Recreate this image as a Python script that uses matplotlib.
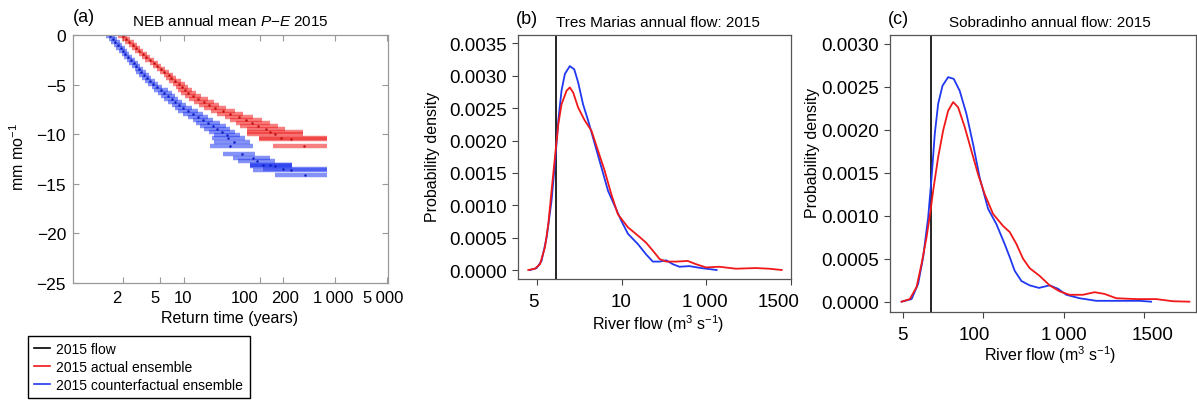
import numpy as np
import matplotlib
matplotlib.use('Agg')
import matplotlib.pyplot as plt
from matplotlib.lines import Line2D
from matplotlib.ticker import FixedLocator, NullLocator
from matplotlib.transforms import ScaledTranslation

plt.rcParams['font.family'] = ['Liberation Sans', 'DejaVu Sans']
plt.rcParams['mathtext.fontset'] = 'custom'
plt.rcParams['mathtext.rm'] = 'Liberation Sans'
plt.rcParams['mathtext.it'] = 'Liberation Sans:italic'
plt.rcParams['axes.unicode_minus'] = True

# --- (a) NEB annual mean P-E 2015: return time (years) vs mm/month ---
# actual ensemble (red): return time, value, error bar low / high return time
pe_act_T = [1.98, 2.14, 2.31, 2.51, 2.70, 2.91, 3.17, 3.47, 3.80, 4.23, 4.64, 5.18, 5.71,
            6.40, 6.86, 7.69, 8.64, 9.42, 10.3, 11.4, 13.0, 15.3, 18.0, 21.0, 25.2, 32.1,
            39.7, 52.2, 64.8, 77.8, 93.6, 120, 135, 158, 190, 258, 385]
pe_act_val = [-0.10, -0.40, -0.71, -1.01, -1.31, -1.61, -1.92, -2.22, -2.52, -2.82, -3.13,
              -3.43, -3.73, -4.03, -4.33, -4.64, -4.94, -5.24, -5.54, -5.85, -6.15, -6.45,
              -6.75, -7.06, -7.36, -7.66, -7.96, -8.27, -8.57, -8.87, -9.17, -9.48, -9.78,
              -9.93, -10.38, -10.48, -11.19]
pe_act_lo = [1.82, 1.96, 2.11, 2.29, 2.45, 2.63, 2.87, 3.14, 3.42, 3.80, 4.17, 4.64, 5.04,
             5.63, 5.96, 6.49, 7.27, 7.91, 8.40, 9.15, 10.3, 11.5, 13.4, 15.5, 18.0, 22.4,
             26.8, 34.1, 39.7, 47.7, 53.9, 66.6, 66.6, 66.6, 95.6, 95.6, 150]
pe_act_hi = [2.16, 2.34, 2.54, 2.77, 2.98, 3.21, 3.51, 3.85, 4.23, 4.71, 5.18, 5.79, 6.49,
             7.27, 7.91, 9.15, 10.3, 11.2, 12.6, 14.2, 16.5, 20.4, 24.5, 28.4, 35.1, 46.3,
             59.1, 80.2, 105, 135, 173, 214, 375, 375, 783, 783, 783]

# counterfactual ensemble (blue)
pe_cf_T = [1.565, 1.64, 1.715, 1.80, 1.90, 2.00, 2.11, 2.24, 2.40, 2.54, 2.70, 2.87, 3.06,
           3.26, 3.51, 3.80, 4.17, 4.64, 5.18, 5.71, 6.30, 6.98, 7.69, 8.64, 9.85, 11.2,
           13.0, 15.1, 17.5, 20.4, 23.8, 26.8, 31.1, 36.2, 37.5, 44.5, 39.7, 56.7, 79.6,
           92.0, 109, 135, 158, 199, 260, 397]
pe_cf_val = [-0.10, -0.40, -0.71, -1.01, -1.31, -1.61, -1.92, -2.22, -2.52, -2.82, -3.13,
             -3.43, -3.73, -4.03, -4.33, -4.64, -4.94, -5.24, -5.54, -5.85, -6.15, -6.45,
             -6.75, -7.06, -7.36, -7.66, -7.96, -8.27, -8.57, -8.87, -9.17, -9.48, -9.78,
             -10.08, -10.38, -10.79, -11.16, -11.99, -12.43, -12.67, -13.10, -13.10, -13.17,
             -13.51, -13.58, -14.11]
pe_cf_lo = [1.46, 1.53, 1.59, 1.67, 1.75, 1.84, 1.94, 2.05, 2.18, 2.31, 2.45, 2.60, 2.70,
            2.87, 3.10, 3.34, 3.65, 4.06, 4.28, 4.71, 5.18, 5.71, 6.30, 7.09, 7.69, 8.40,
            9.71, 11.2, 13.0, 14.2, 16.0, 18.0, 21.0, 24.5, 23.0, 24.5, 21.7, 32.1, 43.5,
            50.3, 73.2, 73.2, 73.2, 110, 80.2, 158]
pe_cf_hi = [1.69, 1.77, 1.86, 1.96, 2.07, 2.18, 2.31, 2.45, 2.63, 2.80, 2.98, 3.17, 3.47,
            3.70, 4.00, 4.34, 4.78, 5.33, 6.30, 6.98, 7.69, 8.51, 9.42, 10.6, 12.6, 15.0,
            17.5, 20.4, 23.8, 29.3, 35.1, 39.7, 46.3, 53.9, 62.8, 73.2, 80.2, 85.4, 135,
            158, 265, 265, 265, 783, 783, 783]

rt_ticks = [2, 5, 10, 100, 200, 1000, 5000]
rt_labels = ['2', '5', '10', '100', '200', '1\u2009000', '5\u2009000']

# --- (b) Tres Marias annual flow 2015: density of river flow ---
tm_flow_2015 = 112
tm_act_x = [-51, -12, 18, 47, 67, 86, 106, 126, 145, 175, 194, 214, 243, 282, 322, 361, 400,
            439, 478, 537, 606, 645, 684, 724, 763, 822, 890, 939, 998, 1076, 1175, 1292,
            1371, 1445]
tm_act_d = [0.0, 0.00002, 0.00009, 0.00035, 0.00071, 0.00122, 0.00174, 0.00225, 0.00256,
            0.00277, 0.00282, 0.00274, 0.00251, 0.00231, 0.00215, 0.00184, 0.00153, 0.00117,
            0.00086, 0.00066, 0.00051, 0.00042, 0.0003, 0.00017, 0.00013, 0.00013, 0.00014,
            0.00009, 0.00004, 0.00005, 0.00002, 0.00003, 0.00002, 0.0]
tm_cf_x = [-41, -2, 27, 57, 86, 106, 126, 145, 165, 194, 220, 243, 272, 302, 341, 380, 420,
           459, 498, 537, 596, 645, 684, 724, 763, 802, 841, 900, 969, 1061]
tm_cf_d = [0.0, 0.00003, 0.00014, 0.0005, 0.00107, 0.00164, 0.00231, 0.00277, 0.00303,
           0.00315, 0.0031, 0.0029, 0.00256, 0.00231, 0.00195, 0.00159, 0.00122, 0.00099,
           0.00076, 0.00056, 0.0004, 0.00024, 0.00013, 0.00013, 0.00015, 0.00009, 0.00005,
           0.00006, 0.00003, 0.0]
tm_ticks = [0, 500, 1000, 1500]
tm_labels = ['5', '10', '1\u2009000', '1500']

# --- (c) Sobradinho annual flow 2015 ---
sob_flow_2015 = 174
sob_act_x = [-8, 43, 85, 116, 147, 172, 188, 219, 250, 281, 312, 343, 384, 426, 467, 508,
             560, 622, 663, 705, 746, 787, 849, 911, 973, 1035, 1118, 1190, 1252, 1325, 1449,
             1573, 1676, 1779]
sob_act_d = [0.0, 0.00003, 0.00017, 0.00044, 0.00075, 0.00106, 0.00129, 0.00168, 0.00199,
             0.00222, 0.00232, 0.00226, 0.00203, 0.00175, 0.00148, 0.00125, 0.00102, 0.00088,
             0.00081, 0.00067, 0.0005, 0.00039, 0.0003, 0.00019, 0.00012, 0.00008, 0.00008,
             0.00011, 0.00009, 0.00004, 0.00003, 0.00003, 0.000005, 0.0]
sob_cf_x = [-8, 54, 95, 126, 157, 178, 198, 219, 246, 281, 316, 353, 395, 436, 477, 529, 581,
            632, 663, 694, 736, 787, 845, 911, 963, 1015, 1097, 1201, 1345, 1469, 1541]
sob_cf_d = [0.0, 0.00003, 0.00021, 0.00052, 0.00098, 0.00144, 0.00195, 0.0023, 0.00251,
            0.00261, 0.00259, 0.00245, 0.00218, 0.00183, 0.00144, 0.00108, 0.0009, 0.00067,
            0.00052, 0.00036, 0.00024, 0.00019, 0.00016, 0.00019, 0.00015, 0.00008, 0.00004,
            0.00001, 0.00001, 0.00001, 0.0]
sob_ticks = [0, 500, 1000, 1500]
sob_labels = ['5', '100', '1\u2009000', '1500']

RED = '#f01818'
BLUE = '#2038f0'
W, H = 1197, 402


def fpos(x, y):
    return x / W, 1 - y / H


def ax_rect(left, top, right, bottom):
    return [left / W, (H - bottom) / H, (right - left) / W, (bottom - top) / H]


def gumbel(t):
    t = np.clip(np.asarray(t, dtype=float), 1.000001, None)
    return -np.log(-np.log1p(-1.0 / t))


def gumbel_inv(g):
    g = np.asarray(g, dtype=float)
    return 1.0 / (-np.expm1(-np.exp(-g)))


def shift_xlabels(ax, offsets_px):
    # the original figure has its tick labels slightly off the tick marks
    for lab, dx in zip(ax.get_xticklabels(), offsets_px):
        lab.set_transform(lab.get_transform() + ScaledTranslation(dx / 100, 0, fig.dpi_scale_trans))


fig = plt.figure(figsize=(W / 100, H / 100), dpi=100)

# ---------------- panel (a) ----------------
ax1 = fig.add_axes(ax_rect(73, 36, 388, 284))
ax1.set_xscale('function', functions=(gumbel, gumbel_inv))
ax1.hlines(pe_cf_val, pe_cf_lo, pe_cf_hi, color=BLUE, alpha=0.55, lw=3.2)
ax1.plot(pe_cf_T, pe_cf_val, '.', color='#1020c0', ms=1.6)
ax1.hlines(pe_act_val, pe_act_lo, pe_act_hi, color=RED, alpha=0.55, lw=3.2)
ax1.plot(pe_act_T, pe_act_val, '.', color='#c01010', ms=1.6)
ax1.set_xlim(1.0407, 5150)
ax1.set_ylim(-25, 0)
ax1.xaxis.set_major_locator(FixedLocator(rt_ticks))
ax1.set_xticklabels(rt_labels)
ax1.xaxis.set_minor_locator(NullLocator())
ax1.set_yticks([0, -5, -10, -15, -20, -25])
ax1.tick_params(direction='in', top=True, right=True, length=4, width=0.8,
                color='#999999', labelsize=12.5, pad=5)
ax1.tick_params(axis='x', labelsize=12)
for s in ax1.spines.values():
    s.set_color('#999999')
    s.set_linewidth(0.9)
shift_xlabels(ax1, [-6, -5, -1, -16, 2, -2, -4])

fig.text(*fpos(84, 18), '(a)', fontsize=13, ha='center', va='center')
fig.text(*fpos(230, 22), 'NEB annual mean $P$\u2212$E$ 2015',
         fontsize=11, ha='center', va='center')
fig.text(*fpos(18, 157), r'mm mo$^{-1}$', fontsize=11.5, rotation=90, ha='center', va='center')
fig.text(*fpos(230, 319), 'Return time (years)', fontsize=11.5, ha='center', va='center')


# ---------------- panels (b) and (c) ----------------
def density_panel(rect, act_x, act_d, cf_x, cf_d, flow, ticks, labels, xlim, ylim, yticks):
    ax = fig.add_axes(rect)
    ax.axvline(flow, color='black', lw=1.2)
    ax.plot(cf_x, cf_d, color=BLUE, lw=1.3)
    ax.plot(act_x, act_d, color=RED, lw=1.3)
    ax.set_xlim(*xlim)
    ax.set_ylim(*ylim)
    ax.set_xticks(ticks)
    ax.set_xticklabels(labels)
    ax.set_yticks(yticks)
    ax.set_yticklabels(['%.4f' % v for v in yticks])
    ax.tick_params(direction='out', length=4, width=0.8, color='#444444', labelsize=13.5)
    ax.tick_params(axis='y', pad=4)
    ax.tick_params(axis='x', pad=6)
    for s in ax.spines.values():
        s.set_color('#555555')
        s.set_linewidth(0.9)
    return ax


ax2 = density_panel(ax_rect(518, 36, 791, 280), tm_act_x, tm_act_d, tm_cf_x, tm_cf_d,
                    tm_flow_2015, tm_ticks, tm_labels, (-112, 1500), (-0.000139, 0.00363),
                    np.arange(0, 0.00351, 0.0005))
shift_xlabels(ax2, [-4, -1, -2, -12])
fig.text(*fpos(527, 20), '(b)', fontsize=13, ha='center', va='center')
fig.text(*fpos(658, 23), 'Tres Marias annual flow: 2015', fontsize=11, ha='center', va='center')
fig.text(*fpos(432, 157), 'Probability density', fontsize=11.5, rotation=90,
         ha='center', va='center')
fig.text(*fpos(658, 324), r'River flow (m$^3$ s$^{-1}$)', fontsize=11.5, ha='center', va='center')

ax3 = density_panel(ax_rect(890, 36, 1196, 313), sob_act_x, sob_act_d, sob_cf_x, sob_cf_d,
                    sob_flow_2015, sob_ticks, sob_labels, (-80, 1820), (-0.00012, 0.0031),
                    np.arange(0, 0.00301, 0.0005))
shift_xlabels(ax3, [0, -9, 0, 8])
fig.text(*fpos(898, 19), '(c)', fontsize=13, ha='center', va='center')
fig.text(*fpos(1050, 23), 'Sobradinho annual flow: 2015', fontsize=11, ha='center', va='center')
fig.text(*fpos(812, 153), 'Probability density', fontsize=11.5, rotation=90,
         ha='center', va='center')
fig.text(*fpos(1050, 355), r'River flow (m$^3$ s$^{-1}$)', fontsize=11.5, ha='center', va='center')

# ---------------- legend ----------------
handles = [Line2D([], [], color='black', lw=1.2),
           Line2D([], [], color=RED, lw=1.2),
           Line2D([], [], color=BLUE, lw=1.2)]
leg = fig.legend(handles, ['2015 flow', '2015 actual ensemble', '2015 counterfactual ensemble'],
                 loc='upper left', bbox_to_anchor=fpos(28, 337), borderaxespad=0,
                 fontsize=10, handlelength=1.1, handletextpad=0.5, labelspacing=0.28,
                 borderpad=0.45, fancybox=False, framealpha=1, edgecolor='black')
leg.get_frame().set_linewidth(1.0)

fig.savefig('out.png', dpi=100)
